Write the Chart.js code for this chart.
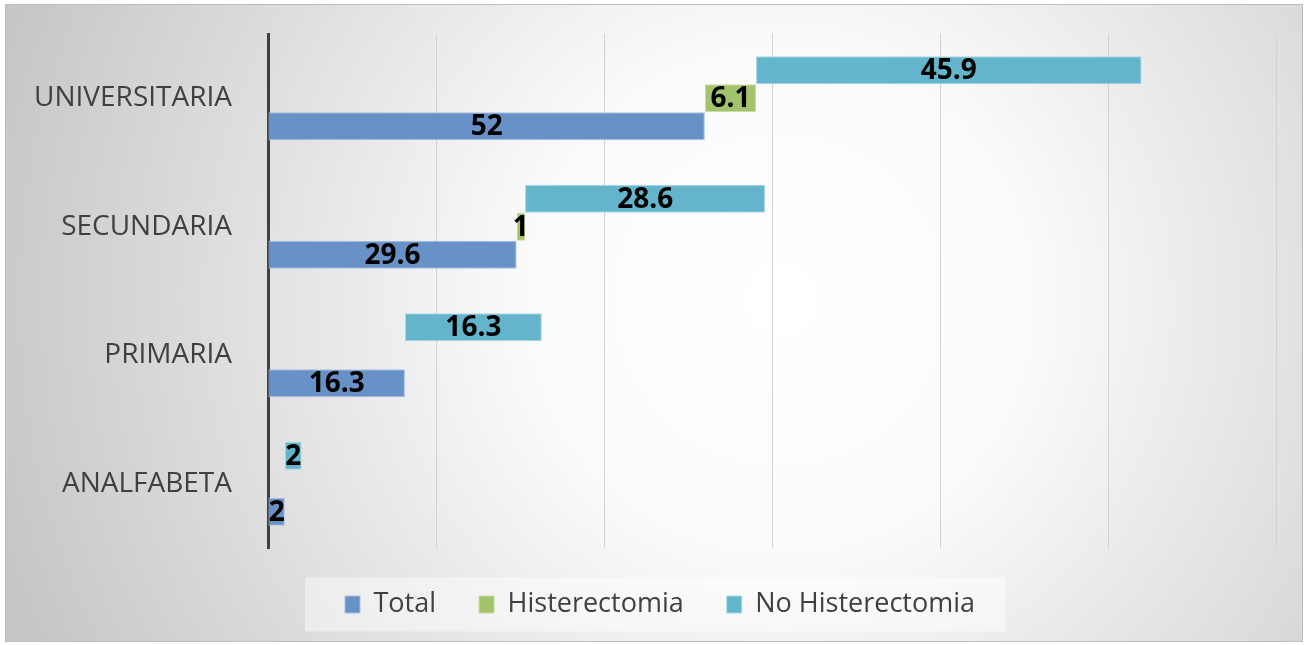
<!DOCTYPE html>
<html>
<head>
<meta charset="utf-8">
<script src="https://cdn.jsdelivr.net/npm/chart.js@4"></script>
<style>
  html, body { margin: 0; padding: 0; background: #fff; }
  #wrap { width: 1307px; height: 645px; }
</style>
</head>
<body>
<div id="wrap"><canvas id="graph"></canvas></div>
<script>
"use strict";

//Data
const categories = ["UNIVERSITARIA", "SECUNDARIA", "PRIMARIA", "ANALFABETA"];
const total = [52, 29.6, 16.3, 2];
const histerectomia = [6.1, 1, 0, 0];
const noHisterectomia = [45.9, 28.6, 16.3, 2];
const xTicks = [0, 20, 40, 60, 80, 100, 120];

//each bar starts where the previous one ends
const totalBars = total.map((v) => [0, v]);
const histBars = histerectomia.map((v, i) => (v ? [total[i], total[i] + v] : null));
const noHistBars = noHisterectomia.map((v, i) => [
  total[i] + histerectomia[i],
  total[i] + histerectomia[i] + v,
]);

const FONT = "'Open Sans', 'Noto Sans', sans-serif";

//background: soft radial fill with a thin frame
const backdrop = {
  id: "backdrop",
  beforeDraw(chart) {
    const ctx = chart.ctx;
    ctx.save();
    ctx.fillStyle = "#ffffff";
    ctx.fillRect(0, 0, chart.width, chart.height);
    const g = ctx.createRadialGradient(780, 300, 0, 780, 300, 820);
    g.addColorStop(0, "#ffffff");
    g.addColorStop(0.3, "#fbfbfb");
    g.addColorStop(1, "#c6c6c6");
    ctx.fillStyle = g;
    ctx.fillRect(6, 5, 1296, 636);
    ctx.strokeStyle = "#bdbdbd";
    ctx.lineWidth = 1;
    ctx.strokeRect(5.5, 4.5, 1297, 637);

    //legend panel
    const boxes = chart.legend.legendHitBoxes;
    if (boxes && boxes.length) {
      const left = Math.min(...boxes.map((b) => b.left)) - 40;
      const right = Math.max(...boxes.map((b) => b.left + b.width)) + 30;
      const mid = boxes[0].top + boxes[0].height / 2;
      ctx.fillStyle = "rgba(255,255,255,0.45)";
      ctx.fillRect(left, mid - 27, right - left, 54);
    }
    ctx.restore();
  },
};

//legend sits a little right of the canvas centre
const legendShift = {
  id: "legendShift",
  afterLayout(chart) {
    chart.legend.left += 22;
    chart.legend.right += 22;
  },
};

//value labels in the middle of each bar
const barLabels = {
  id: "barLabels",
  afterDatasetsDraw(chart) {
    const ctx = chart.ctx;
    ctx.save();
    ctx.font = "bold 28px " + FONT;
    ctx.fillStyle = "#000";
    ctx.textAlign = "center";
    ctx.textBaseline = "middle";
    chart.data.datasets.forEach((ds, di) => {
      const meta = chart.getDatasetMeta(di);
      meta.data.forEach((bar, i) => {
        if (!ds.data[i]) return;
        ctx.fillText(String(ds.values[i]), (bar.x + bar.base) / 2, bar.y + 1);
      });
    });
    ctx.restore();
  },
};

//graph
new Chart(document.getElementById("graph"), {
  type: "bar",
  data: {
    labels: categories,
    datasets: [
      {
        label: "No Histerectomia",
        data: noHistBars,
        values: noHisterectomia,
        backgroundColor: "#64b5cb",
        borderColor: "#a9d8e5",
        borderWidth: 1,
        borderSkipped: false,
      },
      {
        label: "Histerectomia",
        data: histBars,
        values: histerectomia,
        backgroundColor: "#a2c26c",
        borderColor: "#c8dca4",
        borderWidth: 1,
        borderSkipped: false,
      },
      {
        label: "Total",
        data: totalBars,
        values: total,
        backgroundColor: "#6892c7",
        borderColor: "#a6bfe0",
        borderWidth: 1,
        borderSkipped: false,
      },
    ],
  },
  options: {
    indexAxis: "y",
    responsive: true,
    maintainAspectRatio: false,
    animation: false,
    categoryPercentage: 0.655,
    barPercentage: 1,
    layout: { padding: { top: 34, left: 0, right: 31, bottom: 17 } },
    scales: {
      x: {
        min: xTicks[0],
        max: xTicks[xTicks.length - 1],
        afterBuildTicks: (scale) => {
          scale.ticks = xTicks.map((v) => ({ value: v }));
        },
        ticks: { display: false },
        grid: { color: "#d2d2d2", lineWidth: 1, drawTicks: false },
        border: { display: false },
        afterFit: (scale) => {
          scale.height = 0;
        },
      },
      y: {
        grid: { display: false, drawTicks: false },
        border: { display: true, color: "#404040", width: 3 },
        ticks: {
          color: "#404040",
          padding: 36,
          font: { family: FONT, size: 28 },
        },
        afterFit: (scale) => {
          scale.width = 268;
          scale.paddingTop = 0;
          scale.paddingBottom = 0;
        },
      },
    },
    plugins: {
      legend: {
        position: "bottom",
        labels: {
          color: "#404040",
          boxWidth: 15,
          boxHeight: 17,
          padding: 43,
          font: { family: FONT, size: 27 },
          sort: (a, b) => b.datasetIndex - a.datasetIndex,
        },
      },
      tooltip: { enabled: false },
    },
  },
  plugins: [backdrop, legendShift, barLabels],
});
</script>
</body>
</html>
